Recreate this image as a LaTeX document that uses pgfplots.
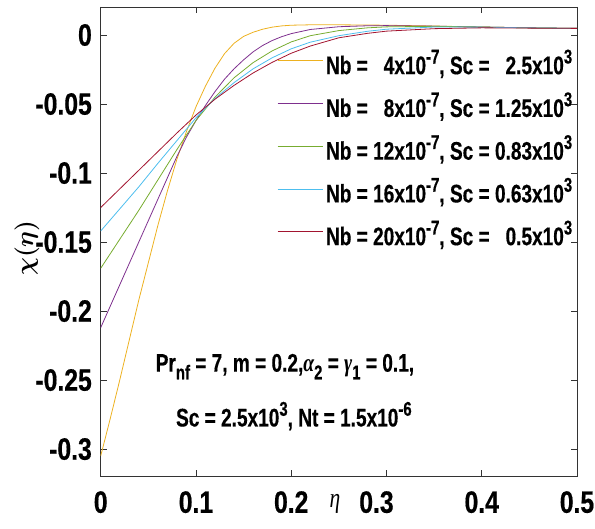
\documentclass[border=0pt]{standalone}
\usepackage{pgfplots}
\pgfplotsset{compat=1.18}
\usepackage{fontspec}
\setmainfont[FakeStretch=0.75, FakeBold=0.4]{Liberation Sans}
\newfontfamily\tickfont[FakeStretch=0.8, FakeBold=0.5]{Liberation Sans}
\newfontfamily\grk[FakeStretch=0.77]{Liberation Serif}

\definecolor{cyellow}{rgb}{0.929,0.694,0.125}
\definecolor{cpurple}{rgb}{0.494,0.184,0.556}
\definecolor{cgreen}{rgb}{0.466,0.674,0.188}
\definecolor{ccyan}{rgb}{0.301,0.745,0.933}
\definecolor{cred}{rgb}{0.635,0.078,0.184}

\newcommand{\sps}[1]{\raisebox{0.42em}{\fontsize{20}{20}\selectfont #1}}
\newcommand{\sbs}[1]{\raisebox{-0.3em}{\fontsize{20}{20}\selectfont #1}}

\begin{document}
\begin{tikzpicture}
\path[use as bounding box] (-100.7bp,-53bp) rectangle (494.3bp,476bp);
\begin{axis}[
  at={(0,0)}, anchor=south west,
  scale only axis, width=476.3bp, height=469bp,
  xmin=0, xmax=0.5, ymin=-0.3195, ymax=0.0203,
  xtick={0,0.1,0.2,0.3,0.4,0.5},
  xticklabels={0,0.1,0.2,0.3\hspace*{20bp},0.4,0.5},
  ytick={-0.3,-0.25,-0.2,-0.15,-0.1,-0.05,0},
  yticklabels={-0.3,-0.25,-0.2,-0.15,-0.1,-0.05,0},
  xtick pos=both, ytick pos=both, tick align=inside,
  major tick length=6bp,
  axis line style={black!80, line width=0.7bp},
  tick style={black!80, line width=0.7bp},
  tick label style={font=\tickfont\fontsize{31}{31}\selectfont\bfseries, inner sep=0pt},
  xticklabel shift=15bp, yticklabel shift=8.7bp,
  xlabel={\grk\itshape η},
  xlabel style={at={(axis description cs:0.492,0)}, anchor=north, yshift=-15bp, font=\fontsize{28}{28}\selectfont},
  ylabel={$\chi(\eta)$},
  ylabel style={at={(axis description cs:-0.155,0.486)}, anchor=center, font=\fontsize{35}{35}\selectfont\boldmath},
  legend cell align=left,
  legend image code/.code={\draw[#1, line width=0.8bp] (0bp,7bp) -- (45bp,7bp);},
  legend style={at={(rel axis cs:0.3702,0.8977)}, anchor=north west,
    draw=none, fill=none, inner sep=0pt, row sep=17.75bp, column sep=3bp,
    font=\fontsize{25.5}{26}\selectfont\bfseries,
    nodes={inner sep=0pt, text height=19bp, text depth=6bp}},
  every axis plot/.append style={line width=0.8bp},
]
\addplot[cyellow] coordinates {
(0,-0.305) (0.01,-0.278) (0.02,-0.250) (0.03,-0.221) (0.04,-0.192) (0.05,-0.165)
(0.06,-0.138) (0.07,-0.113) (0.08,-0.090) (0.09,-0.070) (0.10,-0.052) (0.11,-0.037)
(0.12,-0.024) (0.13,-0.0135) (0.14,-0.0060) (0.15,-0.0010) (0.16,0.0020) (0.17,0.0042)
(0.18,0.0057) (0.19,0.0066) (0.20,0.0071) (0.22,0.0074) (0.25,0.0074) (0.30,0.0071)
(0.35,0.0065) (0.40,0.0058) (0.45,0.0052) (0.50,0.0048)};
\addlegendentry{Nb = \phantom{1}4x10\sps{-7}, Sc = \phantom{1}2.5x10\sps{3}}
\addplot[cpurple] coordinates {
(0,-0.212) (0.02,-0.181) (0.04,-0.150) (0.06,-0.119) (0.08,-0.088) (0.09,-0.074)
(0.10,-0.062) (0.11,-0.051) (0.12,-0.041) (0.13,-0.032) (0.14,-0.0245) (0.15,-0.018)
(0.16,-0.0122) (0.17,-0.0076) (0.18,-0.0040) (0.19,-0.0012) (0.20,0.0010) (0.22,0.0040)
(0.25,0.0060) (0.28,0.0067) (0.30,0.0068) (0.35,0.0064) (0.40,0.0058) (0.45,0.0052)
(0.50,0.0048)};
\addlegendentry{Nb = \phantom{1}8x10\sps{-7}, Sc = 1.25x10\sps{3}}
\addplot[cgreen] coordinates {
(0,-0.169) (0.02,-0.148) (0.04,-0.127) (0.06,-0.105) (0.08,-0.083) (0.10,-0.062)
(0.12,-0.045) (0.14,-0.031) (0.16,-0.020) (0.18,-0.0115) (0.20,-0.0050) (0.22,-0.0005)
(0.25,0.0032) (0.28,0.0052) (0.30,0.0059) (0.35,0.0063) (0.40,0.0058) (0.45,0.0052)
(0.50,0.0048)};
\addlegendentry{Nb = 12x10\sps{-7}, Sc = 0.83x10\sps{3}}
\addplot[ccyan] coordinates {
(0,-0.142) (0.02,-0.126) (0.04,-0.110) (0.06,-0.093) (0.08,-0.0765) (0.10,-0.060)
(0.12,-0.0460) (0.14,-0.0345) (0.16,-0.0245) (0.18,-0.0165) (0.20,-0.0100) (0.22,-0.0052)
(0.25,-0.0005) (0.28,0.0027) (0.30,0.0042) (0.35,0.0058) (0.40,0.0057) (0.45,0.0052)
(0.50,0.0048)};
\addlegendentry{Nb = 16x10\sps{-7}, Sc = 0.63x10\sps{3}}
\addplot[cred] coordinates {
(0,-0.125) (0.02,-0.1115) (0.04,-0.098) (0.06,-0.0845) (0.08,-0.071) (0.10,-0.058)
(0.12,-0.0465) (0.14,-0.0365) (0.16,-0.0275) (0.18,-0.0198) (0.20,-0.0132) (0.22,-0.0080)
(0.25,-0.0020) (0.28,0.0012) (0.30,0.0028) (0.35,0.0046) (0.40,0.0052) (0.45,0.0050)
(0.50,0.0048)};
\addlegendentry{Nb = 20x10\sps{-7}, Sc = \phantom{0}0.5x10\sps{3}}

\node[anchor=base, font=\fontsize{25.5}{26}\selectfont\bfseries]
  at (axis cs:0.1934,-0.2439)
  {Pr\sbs{nf} = 7, m = 0.2,{\grk\itshape α}\sbs{2} = {\grk\itshape γ}\sbs{1} = 0.1,};
\node[anchor=base, font=\fontsize{25.5}{26}\selectfont\bfseries]
  at (axis cs:0.2028,-0.2836)
  {Sc = 2.5x10\sps{3}, Nt = 1.5x10\sps{-6}};
\end{axis}
\end{tikzpicture}
\end{document}
